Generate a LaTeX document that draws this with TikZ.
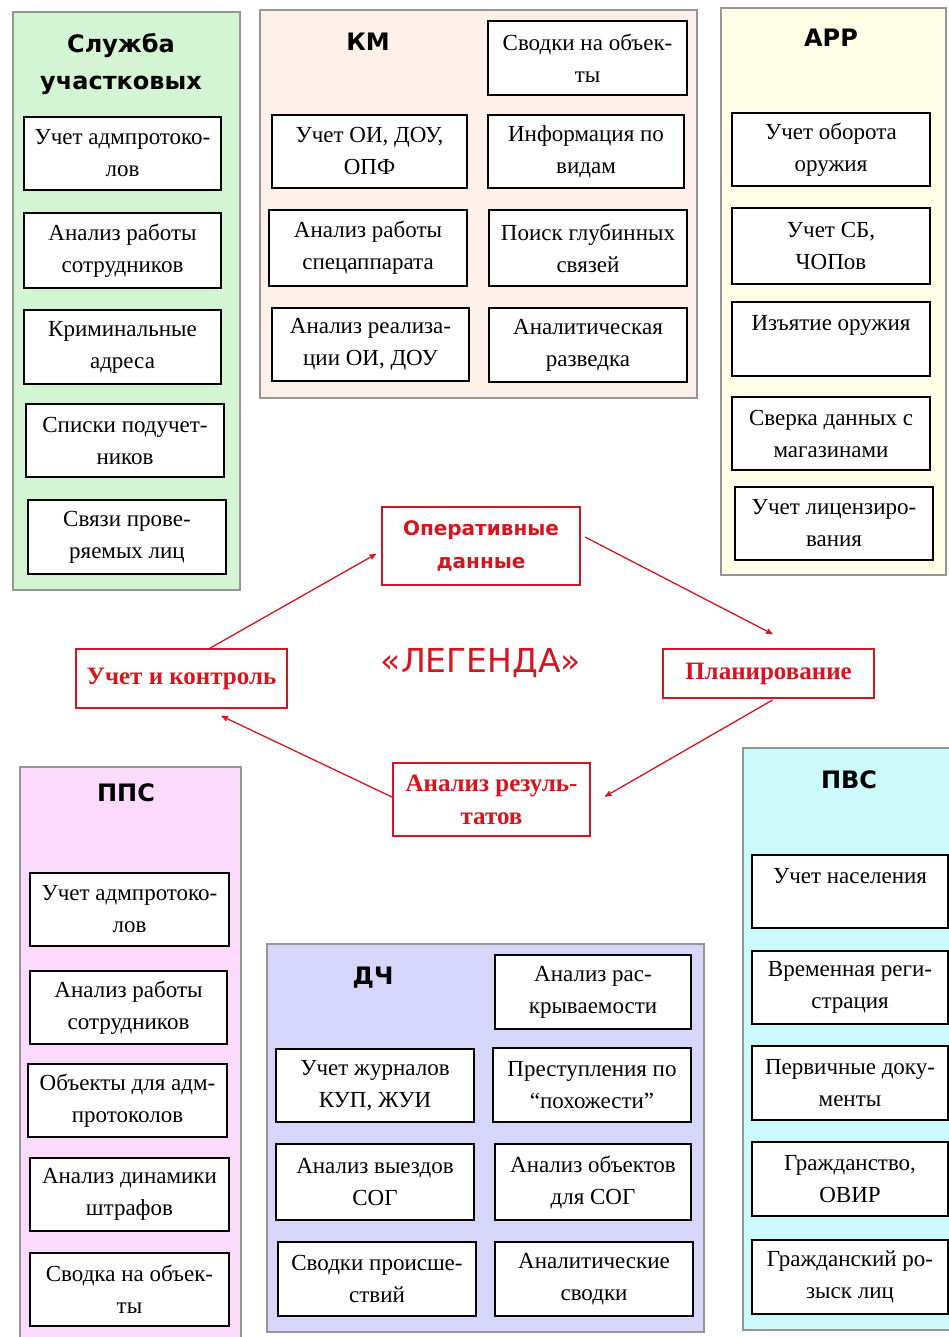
\documentclass[tikz,border=0pt]{standalone}
\usepackage{fontspec}
\setmainfont{Liberation Serif}
\newfontfamily\headfont{DejaVu Sans}
\usepackage{tikz}
\usetikzlibrary{arrows,positioning}
\definecolor{greenpanel}{RGB}{212,245,212}
\definecolor{peachpanel}{RGB}{252,240,232}
\definecolor{yellowpanel}{RGB}{255,255,232}
\definecolor{pinkpanel}{RGB}{252,218,252}
\definecolor{lavenderpanel}{RGB}{214,214,250}
\definecolor{cyanpanel}{RGB}{204,250,250}
\definecolor{panelgray}{RGB}{150,150,150}
\definecolor{legendred}{RGB}{215,20,30}
\tikzset{panel/.style={draw=panelgray,line width=1.5pt,inner sep=0,outer sep=0},
    cell/.style={draw,fill=white,line width=1.6pt,inner sep=0,outer sep=0,align=center,
        font=\fontsize{23}{32}\selectfont},
    heading/.style={align=center,font=\headfont\bfseries\fontsize{24}{37}\selectfont},
    stage/.style={draw=legendred,fill=white,line width=1.5pt,inner sep=0,outer sep=0,align=center,
        text=legendred,font=\bfseries\fontsize{25}{33}\selectfont},
    stagesans/.style={stage,font=\headfont\bfseries\fontsize{20}{33}\selectfont},
    legendtext/.style={text=legendred,font=\headfont\fontsize{33}{38}\selectfont},
    flow/.style={->,>=stealth',draw=legendred,line width=1.3pt}
}
\newcommand{\drawbox}[7]
{
% args: (style, name, left x, top y, right x, bottom y, text)
    \pgfmathsetmacro\boxcx{(#3+#5)/2}
    \pgfmathsetmacro\boxcy{(#4+#6)/2}
    \pgfmathsetmacro\boxw{#5-#3}
    \pgfmathsetmacro\boxh{#6-#4}
    \node (#2) [#1,minimum width=\boxw pt,minimum height=\boxh pt] at (\boxcx,\boxcy) {#7};
}

\begin{document}
\begin{tikzpicture}[x=1pt,y=-1pt]

\useasboundingbox (0,0) rectangle (949,1337);

%% panels
\drawbox{panel,fill=greenpanel}{uchPanel}{13}{12}{240}{590}{}
\drawbox{panel,fill=peachpanel}{kmPanel}{260}{10}{697}{398}{}
\drawbox{panel,fill=yellowpanel}{arrPanel}{721}{8}{946}{575}{}
\drawbox{panel,fill=pinkpanel}{ppsPanel}{20}{767}{241}{1342}{}
\drawbox{panel,fill=lavenderpanel}{dchPanel}{267}{944}{704}{1332}{}
\drawbox{panel,fill=cyanpanel}{pvsPanel}{743}{748}{954}{1330}{}

\node (uchTitle) at (121,64) [heading] {Служба\\участковых};
\node (kmTitle) at (368,42) [heading] {КМ};
\node (arrTitle) at (831,38) [heading] {АРР};
\node (ppsTitle) at (126,793) [heading] {ППС};
\node (dchTitle) at (373,978) [heading] {ДЧ};
\node (pvsTitle) at (849,780) [heading] {ПВС};

% Служба участковых
\drawbox{cell}{uchAdm}{24}{117}{221}{190}{Учет адмпротоко-\\лов}
\drawbox{cell}{uchStaff}{24}{213}{221}{288}{Анализ работы\\сотрудников}
\drawbox{cell}{uchAddr}{24}{310}{221}{384}{Криминальные\\адреса}
\drawbox{cell}{uchList}{26}{404}{224}{477}{Списки подучет-\\ников}
\drawbox{cell}{uchLinks}{28}{500}{226}{574}{Связи прове-\\ряемых лиц}

% КМ
\drawbox{cell}{kmOi}{272}{115}{467}{188}{Учет ОИ, ДОУ,\\ОПФ}
\drawbox{cell}{kmSpec}{269}{210}{467}{286}{Анализ работы\\спецаппарата}
\drawbox{cell}{kmReal}{272}{308}{469}{381}{Анализ реализа-\\ции ОИ, ДОУ}
\drawbox{cell}{kmObj}{488}{21}{687}{95}{Сводки на объек-\\ты}
\drawbox{cell}{kmInfo}{488}{115}{684}{188}{Информация по\\видам}
\drawbox{cell}{kmDeep}{489}{210}{687}{286}{Поиск глубинных\\связей}
\drawbox{cell}{kmIntel}{489}{308}{687}{382}{Аналитическая\\разведка}

% АРР
\drawbox{cell}{arrTurn}{732}{113}{930}{186}{Учет оборота\\оружия}
\drawbox{cell}{arrSb}{732}{208}{930}{284}{Учет СБ,\\ЧОПов}
\drawbox{cell}{arrSeize}{732}{302}{930}{376}{Изъятие оружия\\~}
\drawbox{cell}{arrShops}{732}{397}{930}{470}{Сверка данных с\\магазинами}
\drawbox{cell}{arrLic}{735}{487}{933}{560}{Учет лицензиро-\\вания}

% ППС
\drawbox{cell}{ppsAdm}{30}{873}{229}{946}{Учет адмпротоко-\\лов}
\drawbox{cell}{ppsStaff}{30}{971}{227}{1044}{Анализ работы\\сотрудников}
\drawbox{cell}{ppsObj}{28}{1064}{227}{1137}{Объекты для адм-\\протоколов}
\drawbox{cell}{ppsFines}{30}{1158}{229}{1231}{Анализ динамики\\штрафов}
\drawbox{cell}{ppsSum}{30}{1253}{229}{1326}{Сводка на объек-\\ты}

% ДЧ
\drawbox{cell}{dchLog}{276}{1049}{474}{1122}{Учет журналов\\КУП, ЖУИ}
\drawbox{cell}{dchSog}{276}{1144}{474}{1220}{Анализ выездов\\СОГ}
\drawbox{cell}{dchInc}{278}{1242}{476}{1316}{Сводки происше-\\ствий}
\drawbox{cell}{dchSolve}{495}{955}{691}{1029}{Анализ рас-\\крываемости}
\drawbox{cell}{dchSim}{493}{1048}{691}{1122}{Преступления по\\“похожести”}
\drawbox{cell}{dchObj}{495}{1144}{691}{1220}{Анализ объектов\\для СОГ}
\drawbox{cell}{dchSum}{495}{1242}{693}{1316}{Аналитические\\сводки}

% ПВС
\drawbox{cell}{pvsPop}{752}{855}{948}{928}{Учет населения\\~}
\drawbox{cell}{pvsReg}{752}{951}{948}{1024}{Временная реги-\\страция}
\drawbox{cell}{pvsDocs}{752}{1046}{948}{1120}{Первичные доку-\\менты}
\drawbox{cell}{pvsCit}{752}{1142}{948}{1216}{Гражданство,\\ОВИР}
\drawbox{cell}{pvsSearch}{752}{1240}{948}{1314}{Гражданский ро-\\зыск лиц}

%% legend cycle
\drawbox{stagesans}{oper}{382}{507}{580}{585}{Оперативные\\данные}
\drawbox{stage}{uchet}{76}{649}{287}{708}{Учет и контроль}
\drawbox{stage}{plan}{663}{649}{874}{698}{Планирование}
\drawbox{stage}{analiz}{393}{763}{590}{836}{Анализ резуль-\\татов}

\node (legend) at (481,663) [legendtext] {«ЛЕГЕНДА»};

\draw [flow] ([xshift=27pt]uchet.north) -- ([xshift=-6pt,yshift=-8pt]oper.west);
\draw [flow] ([xshift=5pt,yshift=9pt]oper.east) -- ([xshift=4pt,yshift=15pt]plan.north);
\draw [flow] ([xshift=4pt,yshift=-2pt]plan.south) -- ([xshift=15pt,yshift=3pt]analiz.east);
\draw [flow] ([yshift=2pt]analiz.west) -- ([xshift=40pt,yshift=-8pt]uchet.south);

\end{tikzpicture}
\end{document}
